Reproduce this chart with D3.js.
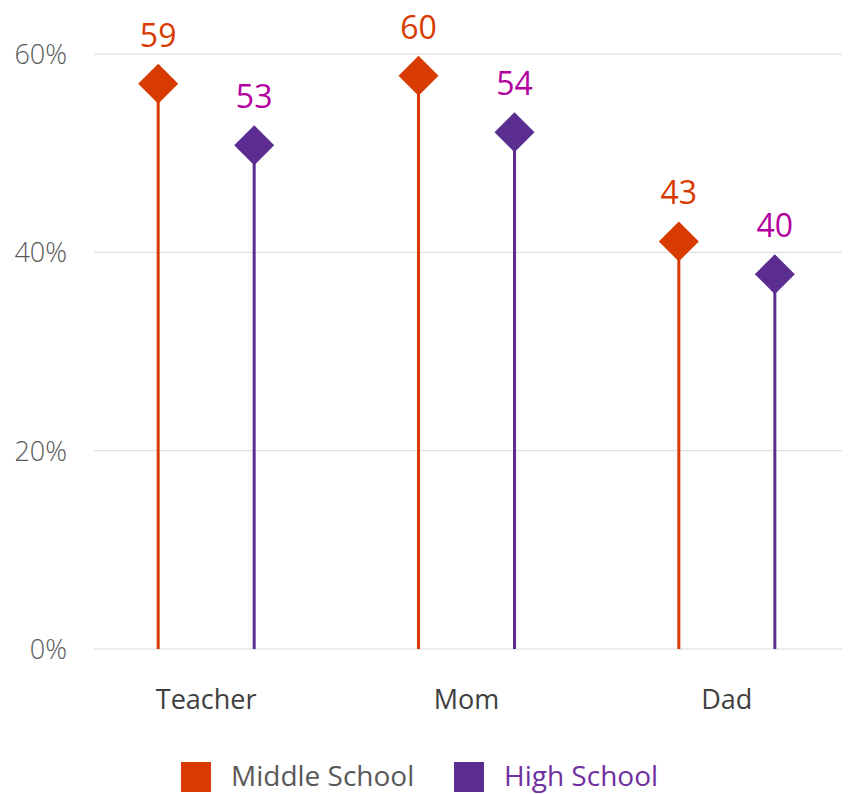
<!DOCTYPE html>
<html>
<head>
<meta charset="utf-8">
<script src="https://cdn.jsdelivr.net/npm/d3@7"></script>
<style>
  html, body { margin: 0; padding: 0; background: #fff; }
  svg { display: block; }
  text { font-family: "Open Sans", "Noto Sans", sans-serif; }
</style>
</head>
<body>
<svg id="chart" width="848" height="794"></svg>
<script>
// ---- data ----
const categories = ["Teacher", "Mom", "Dad"];
const seriesNames = ["Middle School", "High School"];
const middleSchool = [57.0, 57.8, 41.1];      // plotted values (%)
const highSchool = [50.8, 52.1, 37.8];
const middleLabels = ["59", "60", "43"];      // data labels as shown
const highLabels = ["53", "54", "40"];
const yTicks = [0, 20, 40, 60];

// ---- styles ----
const colors = ["#D83B01", "#5C2D91"];
const labelColors = ["#D83B01", "#B4009E"];
const legendTextColors = ["#595959", "#7030A0"];

const svg = d3.select("#chart");

const y = d3.scaleLinear().domain([0, 60]).range([649, 54]);
const x = d3.scaleBand().domain(categories).range([76, 857]);
const sub = d3.scalePoint().domain(seriesNames).range([-48, 48]);

// gridlines
const yAxis = d3.axisLeft(y).tickValues(yTicks).tickSize(0).tickFormat(d => d + "%");
const gGrid = svg.append("g");
gGrid.selectAll("line").data(yTicks).join("line")
  .attr("x1", 94).attr("x2", 842)
  .attr("y1", d => y(d)).attr("y2", d => y(d))
  .attr("stroke", "#d9d9d9").attr("stroke-width", 1);

const gy = svg.append("g").attr("transform", "translate(67,0)").call(yAxis);
gy.select(".domain").remove();
gy.selectAll("text")
  .attr("font-size", 27).attr("font-weight", 300).attr("fill", "#595959")
  .attr("x", 0).attr("dy", "0.35em");

// x axis labels
const xAxis = d3.axisBottom(x).tickSize(0);
const gx = svg.append("g").attr("transform", "translate(0,690)").call(xAxis);
gx.select(".domain").remove();
gx.selectAll("text")
  .attr("font-size", 27).attr("fill", "#404040").attr("dy", "0.71em").attr("y", 0);

const series = [
  { name: seriesNames[0], values: middleSchool, labels: middleLabels, i: 0 },
  { name: seriesNames[1], values: highSchool, labels: highLabels, i: 1 }
];

const half = 20;
series.forEach(s => {
  const g = svg.append("g");
  const data = categories.map((c, k) => ({ c, v: s.values[k], l: s.labels[k] }));
  const cx = d => x(d.c) + x.bandwidth() / 2 + sub(s.name);
  g.selectAll("line").data(data).join("line")
    .attr("x1", cx).attr("x2", cx)
    .attr("y1", y(0)).attr("y2", d => y(d.v))
    .attr("stroke", colors[s.i]).attr("stroke-width", 3);
  g.selectAll("path").data(data).join("path")
    .attr("d", d => {
      const px = cx(d), py = y(d.v);
      return `M${px},${py - half}L${px + half},${py}L${px},${py + half}L${px - half},${py}Z`;
    })
    .attr("fill", colors[s.i]);
  g.selectAll("text").data(data).join("text")
    .attr("x", cx).attr("y", d => y(d.v) - 37)
    .attr("text-anchor", "middle")
    .attr("font-size", 32).attr("fill", labelColors[s.i])
    .text(d => d.l);
});

// legend
const legendX = [181, 454];
const lg = svg.append("g");
seriesNames.forEach((n, i) => {
  lg.append("rect").attr("x", legendX[i]).attr("y", 762).attr("width", 30).attr("height", 30)
    .attr("fill", colors[i]);
  lg.append("text").attr("x", legendX[i] + 50).attr("y", 786)
    .attr("font-size", 28).attr("fill", legendTextColors[i]).text(n);
});
</script>
</body>
</html>
